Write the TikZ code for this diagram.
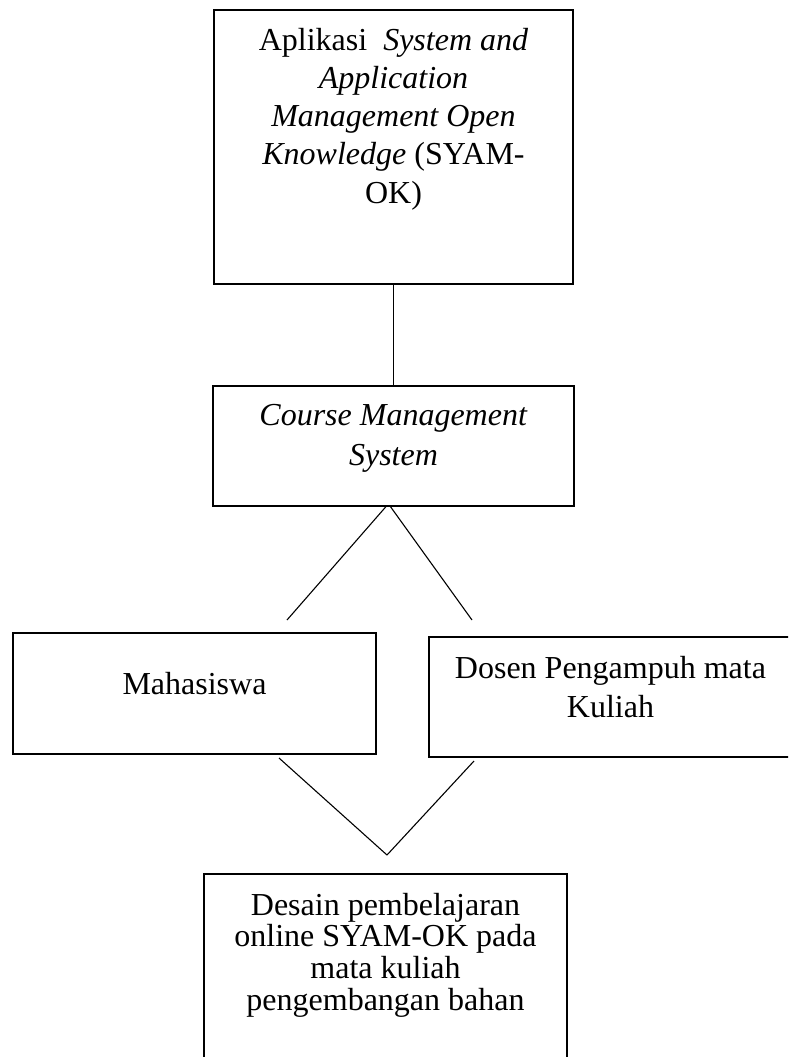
\documentclass[tikz,border=0pt]{standalone}
\usepackage{fontspec}
\setmainfont{Liberation Serif}

\begin{document}
\begin{tikzpicture}[x=1pt, y=-1pt,
    box/.style={rectangle, draw, line width=2.4pt, inner sep=0pt, outer sep=0pt},
    link/.style={line width=1.1pt}]

    \useasboundingbox (0,0) rectangle (788,1057);
    \clip (0,0) rectangle (788,1057);

    \node[box] (app) at (393.5,147) {\parbox[c][274pt][t]{359pt}{\fontsize{32}{38.3}\selectfont\centering\rule{0pt}{40pt}Aplikasi\ \ \textit{System and}\\ \textit{Application}\\ \textit{Management Open}\\ \textit{Knowledge} (SYAM-\\ OK)}};
    \node[box] (cms) at (393.5,446) {\parbox[c][120pt][t]{361pt}{\fontsize{32}{40}\selectfont\centering\rule{0pt}{39pt}\textit{Course Management}\\ \textit{System}}};
    \node[box] (mhs) at (194.5,693.5) {\parbox[c][121pt][t]{363pt}{\fontsize{32}{40}\selectfont\centering\rule{0pt}{61pt}Mahasiswa}};
    \node[box] (dsn) at (610.5,697) {\parbox[c][120pt][t]{363pt}{\fontsize{32}{39}\selectfont\centering\rule{0pt}{41pt}Dosen Pengampuh mata\\ Kuliah}};
    \node[box] (desain) at (385.5,974) {\parbox[c][200pt][t]{363pt}{\fontsize{32}{31.7}\selectfont\centering\rule{0pt}{41pt}Desain pembelajaran\\ online SYAM-OK pada\\ mata kuliah\\ pengembangan bahan}};

    \coordinate (cmsL) at (287,620);
    \coordinate (cmsR) at (472,620);
    \coordinate (meet) at (387,855);

    \draw[link] (app.south) -- (cms.north);
    \draw[link] ([xshift=-7pt]cms.south) -- (cmsL);
    \draw[link] ([xshift=-3.5pt]cms.south) -- (cmsR);
    \draw[link] ([xshift=84.5pt,yshift=-4pt]mhs.south) -- (meet);
    \draw[link] ([xshift=-136.5pt,yshift=-4pt]dsn.south) -- (meet);
\end{tikzpicture}
\end{document}
